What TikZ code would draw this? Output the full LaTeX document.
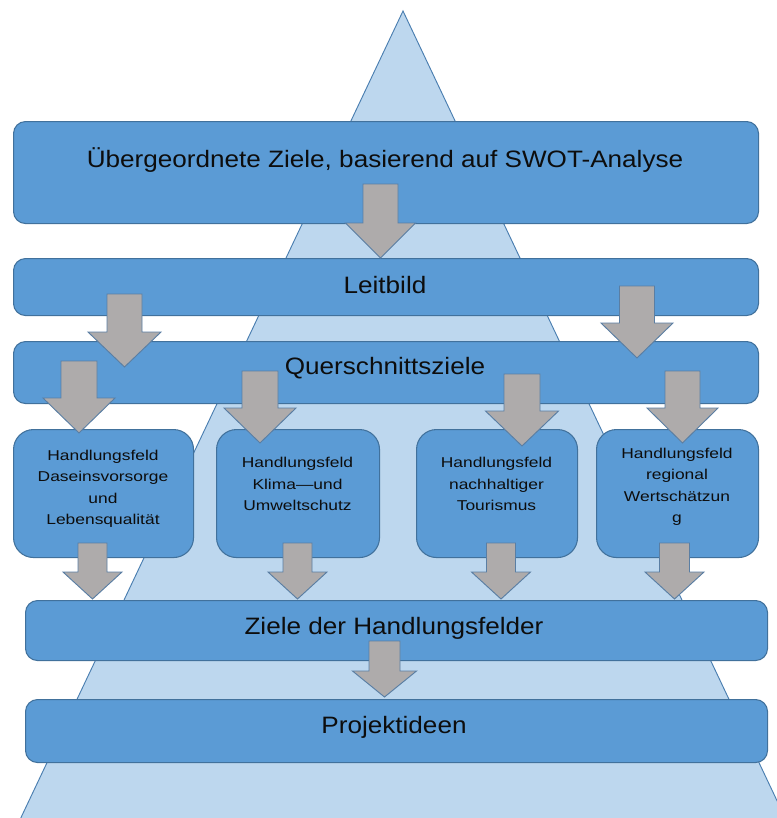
\documentclass[tikz,border=0pt]{standalone}
\usepackage{fontspec}
\setmainfont{Liberation Sans}
\newfontfamily\bigf[FakeStretch=1.1]{Liberation Sans}
\newfontfamily\smallf[FakeStretch=1.22]{Liberation Sans}
\definecolor{boxfill}{HTML}{5B9BD5}
\definecolor{boxline}{HTML}{41719C}
\definecolor{trifill}{HTML}{BDD7EE}
\definecolor{triline}{HTML}{4A7EB0}
\definecolor{arrfill}{HTML}{AEABAB}
\definecolor{arrline}{HTML}{5A7EA3}
\definecolor{txt}{HTML}{0D0D0D}
\tikzset{
  wide/.style={draw=boxline, fill=boxfill, line width=0.8pt, rounded corners=9pt, inner sep=0pt, anchor=north west},
  field/.style={draw=boxline, fill=boxfill, line width=0.8pt, rounded corners=15pt, inner sep=0pt, anchor=north west},
  bigtext/.style={font=\bigf\fontsize{17.8pt}{20pt}\selectfont, text=txt, inner sep=0pt},
  smalltext/.style={font=\smallf\fontsize{10.7pt}{16.1pt}\selectfont, text=txt, align=center, inner sep=0pt},
  blockarrow/.style={draw=arrline, fill=arrfill, line width=0.7pt, line join=miter},
}
% \dnarrow{cx}{shaft half}{top}{head base}{head half}{tip}
\newcommand{\dnarrow}[6]{%
  \draw[blockarrow] ({#1-#2},#3) -- ({#1+#2},#3) -- ({#1+#2},#4) -- ({#1+#5},#4)
    -- (#1,#6) -- ({#1-#5},#4) -- ({#1-#2},#4) -- cycle;}
\newcommand{\boxnode}[6]{%
  \node[#6, minimum width={(#4-#2)*0.75pt}, minimum height={(#5-#3)*0.75pt}] (#1) at (#2,#3) {};}
\begin{document}
\begin{tikzpicture}[x=0.75pt, y=-0.75pt]
\useasboundingbox (0,0) rectangle (777,818);
% background pyramid
\draw[draw=triline, fill=trifill, line width=0.7pt] (403,11) -- (798,845) -- (8,845) -- cycle;

% wide boxes
\boxnode{b1}{13}{121}{758}{223}{wide}
\boxnode{b2}{13}{258}{758}{315}{wide}
\boxnode{b3}{13}{341}{758}{403}{wide}
\boxnode{b5}{25}{600}{767}{660}{wide}
\boxnode{b6}{25}{699}{767}{762}{wide}

% field boxes
\boxnode{fa}{13}{429}{193}{557}{field}
\boxnode{fb}{216}{429}{379}{557}{field}
\boxnode{fc}{416}{429}{577}{557}{field}
\boxnode{fd}{596}{429}{758}{557}{field}

% texts
\node[bigtext] (t1) at (385,160) {Übergeordnete Ziele, basierend auf SWOT-Analyse};
\node[bigtext] (t2) at (385,285) {Leitbild};
\node[bigtext] (t3) at (385,368) {Querschnittsziele};
\node[bigtext] (t5) at (394,628) {Ziele der Handlungsfelder};
\node[bigtext] (t6) at (394,727) {Projektideen};

\node[smalltext] (ta) at (103,489) {Handlungsfeld\\Daseinsvorsorge\\und\\Lebensqualität};
\node[smalltext] (tb) at (297.5,484) {Handlungsfeld\\Klima—und\\Umweltschutz};
\node[smalltext] (tc) at (496.5,484) {Handlungsfeld\\nachhaltiger\\Tourismus};
\node[smalltext] (td) at (677,487) {Handlungsfeld\\regional\\Wertschätzun\\g};

% arrows
\dnarrow{380.5}{17.5}{184}{223}{35}{258}
\dnarrow{124.5}{17.5}{294}{332}{36.5}{367}
\dnarrow{637}{17.5}{286}{323}{36}{358}
\dnarrow{79}{18}{361}{398}{36}{433}
\dnarrow{260}{18}{371}{408}{36}{443}
\dnarrow{522}{18}{374}{411}{36.5}{446}
\dnarrow{682.5}{17.5}{371}{408}{35.5}{443}
\dnarrow{92.5}{14.5}{543}{572}{29.5}{599}
\dnarrow{297.5}{14.5}{543}{572}{29.5}{599}
\dnarrow{501}{14.5}{543}{572}{29.5}{599}
\dnarrow{674.5}{15}{543}{572}{29.5}{599}
\dnarrow{384.5}{15.5}{641}{671}{32}{697}
\end{tikzpicture}
\end{document}
